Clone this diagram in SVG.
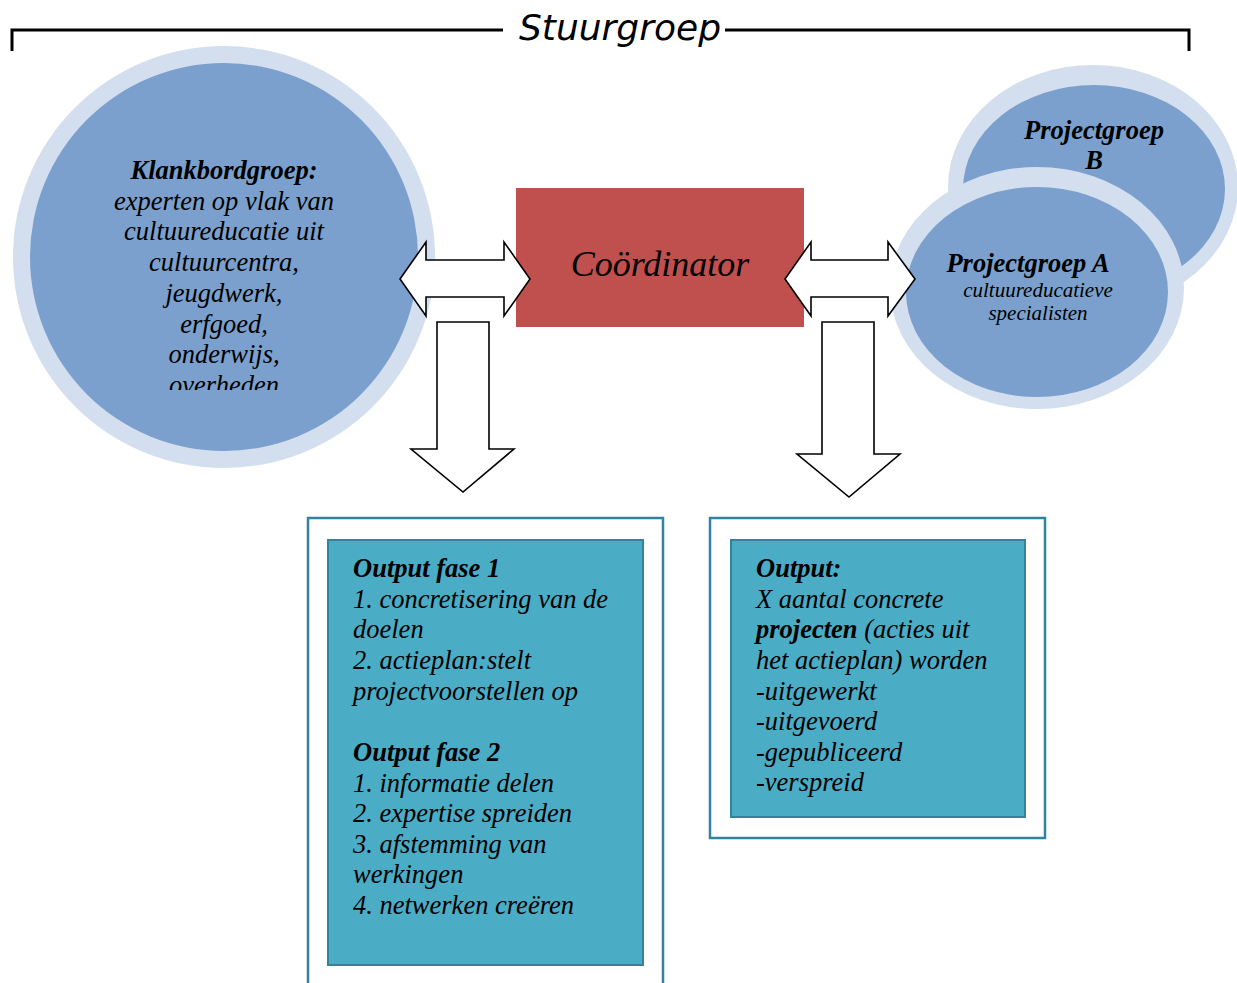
<svg xmlns="http://www.w3.org/2000/svg" width="1237" height="983" viewBox="0 0 1237 983">
<style>
.ring{fill:#D3DFEE}
.core{fill:#7BA0CD}
.t{font-family:"Liberation Serif","Times New Roman",serif;font-style:italic;font-size:26.5px;fill:#000}
.s{font-size:21px}
.b{font-weight:bold}
.arrow{fill:#fff;stroke:#000;stroke-width:1.6;stroke-linejoin:miter}
.outer{fill:#fff;stroke:#31849B;stroke-width:2.5}
.inner{fill:#4BACC6;stroke:#31849B;stroke-width:2}
</style>
<defs>
<clipPath id="kclip"><rect x="0" y="0" width="460" height="390"/></clipPath>
</defs>
<g id="stuurgroep">
<path d="M12 51 V30 H503 M725 30 H1189 V51" fill="none" stroke="#000" stroke-width="3"/>
<text x="620" y="40" text-anchor="middle" font-family="DejaVu Sans, Verdana, sans-serif" font-style="italic" font-size="36">Stuurgroep</text>
</g>
<g id="klankbordgroep">
<circle class="ring" cx="224" cy="257" r="211"/>
<circle class="core" cx="224" cy="257" r="194"/>
<g clip-path="url(#kclip)" text-anchor="middle">
<text class="t b" x="224" y="179">Klankbordgroep:</text>
<text class="t" x="224" y="210">experten op vlak van</text>
<text class="t" x="224" y="240">cultuureducatie uit</text>
<text class="t" x="224" y="271">cultuurcentra,</text>
<text class="t" x="224" y="302">jeugdwerk,</text>
<text class="t" x="224" y="333">erfgoed,</text>
<text class="t" x="224" y="363">onderwijs,</text>
<text class="t" x="224" y="394">overheden</text>
</g>
</g>
<g id="projectgroepB">
<ellipse class="ring" cx="1093" cy="187" rx="145" ry="122"/>
<ellipse class="core" cx="1094" cy="189" rx="131" ry="104"/>
<text class="t b" x="1094" y="139" text-anchor="middle">Projectgroep</text>
<text class="t b" x="1094" y="169" text-anchor="middle">B</text>
</g>
<g id="projectgroepA">
<ellipse class="ring" cx="1037" cy="288" rx="147" ry="121"/>
<ellipse class="core" cx="1037" cy="292" rx="131" ry="105"/>
<text class="t b" x="1028" y="272" text-anchor="middle">Projectgroep A</text>
<text class="t s" x="1038" y="297" text-anchor="middle">cultuureducatieve</text>
<text class="t s" x="1038" y="320" text-anchor="middle">specialisten</text>
</g>
<g id="coordinator">
<rect x="516" y="188" width="288" height="139" fill="#C0504D"/>
<text x="660" y="276" text-anchor="middle" font-family="Liberation Serif, Times New Roman, serif" font-style="italic" font-size="36">Coördinator</text>
</g>
<g id="connectors">
<polygon class="arrow" points="400,279 426,242 426,260 504,260 504,242 530,279 504,316 504,297 426,297 426,316"/>
<polygon class="arrow" points="785,279 811,242 811,260 888,260 888,242 915,279 888,316 888,297 811,297 811,316"/>
<polygon class="arrow" points="437,322 489,322 489,449 514,449 463,492 411,449 437,449"/>
<polygon class="arrow" points="822,322 874,322 874,454 900,454 849,497 797,454 822,454"/>
</g>
<g id="output1">
<rect class="outer" x="308" y="518" width="355" height="480"/>
<rect class="inner" x="328" y="540" width="315" height="425"/>
<text class="t b" x="353" y="577">Output fase 1</text>
<text class="t" x="353" y="608">1. concretisering van de</text>
<text class="t" x="353" y="638">doelen</text>
<text class="t" x="353" y="669">2. actieplan:stelt</text>
<text class="t" x="353" y="700">projectvoorstellen op</text>
<text class="t b" x="353" y="761">Output fase 2</text>
<text class="t" x="353" y="792">1. informatie delen</text>
<text class="t" x="353" y="822">2. expertise spreiden</text>
<text class="t" x="353" y="853">3. afstemming van</text>
<text class="t" x="353" y="883">werkingen</text>
<text class="t" x="353" y="914">4. netwerken creëren</text>
</g>
<g id="output2">
<rect class="outer" x="710" y="518" width="335" height="320"/>
<rect class="inner" x="731" y="540" width="294" height="277"/>
<text class="t b" x="756" y="577">Output:</text>
<text class="t" x="756" y="608">X aantal concrete</text>
<text class="t" x="756" y="638"><tspan class="b">projecten</tspan> (acties uit</text>
<text class="t" x="756" y="669">het actieplan) worden</text>
<text class="t" x="756" y="700">-uitgewerkt</text>
<text class="t" x="756" y="730">-uitgevoerd</text>
<text class="t" x="756" y="761">-gepubliceerd</text>
<text class="t" x="756" y="791">-verspreid</text>
</g>
</svg>
